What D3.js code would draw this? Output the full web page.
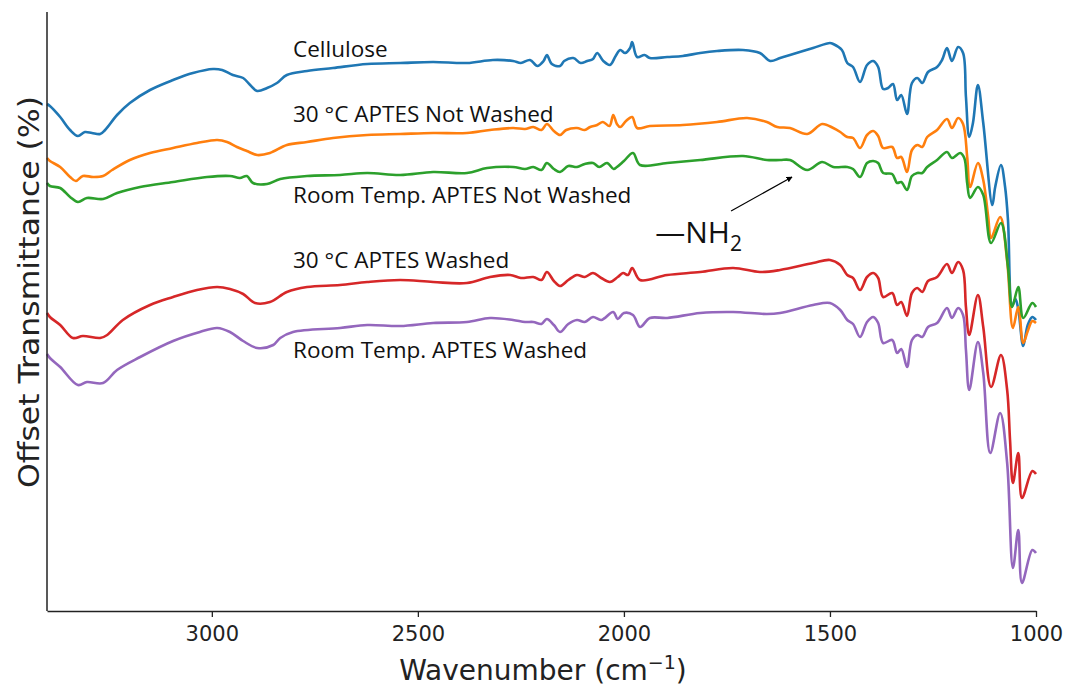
<!DOCTYPE html>
<html>
<head>
<meta charset="utf-8">
<script src="https://cdn.jsdelivr.net/npm/d3@7"></script>
<style>
  body { margin: 0; background: #fff; }
  .tick text { font-family: "DejaVu Sans", sans-serif; }
</style>
</head>
<body>
<div id="chart"></div>
<script>
// spectra: [wavenumber, offset transmittance]
const cellulose = [
  [3400, 507], [3393, 505], [3368, 494], [3344, 481], [3325, 475], [3308, 479], [3291, 478],
  [3271, 477], [3259, 481], [3230, 496], [3199, 508], [3150, 521], [3094, 531], [3046, 538],
  [2997, 542], [2975, 541], [2949, 536], [2924, 533], [2907, 526], [2890, 520], [2866, 523],
  [2842, 528], [2818, 536], [2769, 540], [2706, 543], [2623, 547], [2543, 548], [2463, 549],
  [2381, 548], [2318, 551], [2269, 550], [2250, 548], [2228, 551], [2210, 545], [2195, 550],
  [2187, 556], [2175, 547], [2155, 545], [2145, 550], [2123, 553], [2105, 548], [2089, 550],
  [2075, 552], [2065, 558], [2050, 550], [2034, 546], [2020, 555], [2009, 561], [1997, 558],
  [1985, 563], [1980, 569], [1968, 554], [1950, 556], [1937, 553], [1895, 554], [1857, 555],
  [1815, 558], [1774, 560], [1711, 561], [1670, 558], [1645, 550], [1621, 553], [1597, 556],
  [1541, 563], [1500, 568], [1492, 567], [1471, 561], [1458, 548], [1444, 544], [1427, 529],
  [1410, 546], [1395, 550], [1383, 544], [1371, 522], [1359, 523], [1347, 527], [1337, 511],
  [1327, 516], [1313, 497], [1301, 528], [1288, 533], [1276, 528], [1262, 539], [1240, 544],
  [1228, 551], [1216, 563], [1204, 550], [1189, 564], [1177, 558], [1170, 514], [1162, 474],
  [1153, 488], [1141, 526], [1128, 488], [1106, 406], [1099, 424], [1085, 446], [1075, 424],
  [1068, 391], [1058, 305], [1050, 312], [1043, 302], [1031, 265], [1020, 286], [1009, 294],
  [1000, 291]
];

const notWashed30 = [
  [3400, 453], [3393, 450], [3368, 444], [3344, 434], [3330, 430], [3313, 435], [3288, 434],
  [3264, 435], [3242, 441], [3199, 451], [3150, 458], [3094, 463], [3036, 468], [2987, 471],
  [2963, 469], [2939, 464], [2915, 460], [2890, 456], [2859, 458], [2818, 466], [2769, 469],
  [2706, 473], [2623, 476], [2543, 477], [2463, 478], [2381, 478], [2325, 481], [2269, 483],
  [2240, 482], [2220, 484], [2200, 481], [2187, 487], [2170, 480], [2155, 476], [2140, 481],
  [2114, 483], [2095, 481], [2082, 484], [2065, 486], [2051, 489], [2035, 485], [2026, 496],
  [2017, 487], [2009, 484], [1995, 490], [1980, 494], [1968, 483], [1937, 485], [1857, 486],
  [1774, 489], [1701, 493], [1653, 489], [1628, 484], [1597, 483], [1555, 477], [1519, 487],
  [1492, 483], [1475, 479], [1458, 474], [1444, 473], [1427, 463], [1410, 476], [1395, 480],
  [1383, 475], [1371, 463], [1349, 464], [1337, 453], [1327, 454], [1313, 439], [1301, 461],
  [1288, 466], [1276, 464], [1264, 474], [1240, 481], [1216, 492], [1204, 483], [1189, 493],
  [1177, 487], [1167, 454], [1160, 424], [1141, 448], [1128, 431], [1116, 394], [1109, 373],
  [1087, 394], [1070, 350], [1056, 283], [1043, 304], [1031, 268], [1020, 280], [1009, 290],
  [1000, 288]
];

const notWashedRT = [
  [3400, 428], [3393, 425], [3368, 423], [3344, 414], [3325, 409], [3303, 413], [3264, 412],
  [3230, 418], [3174, 424], [3094, 429], [3012, 434], [2956, 435], [2932, 433], [2915, 435],
  [2900, 428], [2866, 427], [2834, 432], [2769, 435], [2689, 436], [2623, 438], [2543, 436],
  [2463, 439], [2381, 438], [2332, 443], [2269, 444], [2240, 442], [2220, 444], [2200, 441],
  [2187, 448], [2170, 442], [2155, 439], [2135, 445], [2114, 444], [2095, 447], [2075, 448],
  [2060, 444], [2041, 448], [2025, 442], [2017, 444], [2000, 450], [1978, 458], [1961, 446],
  [1895, 448], [1815, 451], [1711, 455], [1653, 451], [1621, 451], [1597, 451], [1555, 441],
  [1519, 449], [1492, 444], [1458, 444], [1444, 442], [1427, 434], [1410, 448], [1395, 450],
  [1383, 448], [1371, 438], [1349, 437], [1337, 428], [1327, 429], [1313, 421], [1301, 435],
  [1288, 438], [1276, 438], [1264, 444], [1240, 451], [1216, 459], [1204, 453], [1184, 458],
  [1174, 453], [1167, 428], [1160, 413], [1141, 424], [1128, 416], [1109, 368], [1085, 388],
  [1068, 344], [1058, 304], [1043, 324], [1031, 293], [1009, 308], [1000, 304]
];

const washed30 = [
  [3400, 298], [3393, 294], [3368, 286], [3337, 273], [3313, 275], [3271, 273], [3254, 276],
  [3216, 291], [3150, 306], [3094, 314], [3036, 321], [2987, 324], [2956, 322], [2924, 317],
  [2895, 308], [2859, 309], [2818, 319], [2769, 324], [2689, 326], [2623, 329], [2543, 331],
  [2463, 329], [2381, 328], [2325, 334], [2276, 336], [2250, 333], [2220, 334], [2200, 331],
  [2187, 339], [2170, 330], [2155, 325], [2135, 331], [2114, 336], [2095, 334], [2075, 338],
  [2055, 333], [2034, 329], [2015, 334], [2002, 338], [1990, 336], [1980, 343], [1961, 331],
  [1895, 336], [1815, 339], [1735, 343], [1670, 339], [1621, 341], [1541, 348], [1500, 351],
  [1475, 346], [1458, 336], [1444, 333], [1427, 321], [1410, 334], [1395, 338], [1383, 333],
  [1371, 314], [1349, 318], [1337, 306], [1327, 309], [1313, 295], [1301, 318], [1288, 323],
  [1276, 319], [1262, 330], [1240, 334], [1216, 347], [1204, 338], [1189, 349], [1177, 341],
  [1170, 304], [1162, 276], [1141, 316], [1128, 284], [1109, 224], [1085, 256], [1070, 221],
  [1063, 171], [1056, 128], [1043, 158], [1034, 113], [1009, 140], [1000, 137]
];

const washedRT = [
  [3400, 257], [3393, 253], [3368, 244], [3325, 226], [3303, 229], [3264, 228], [3230, 241],
  [3174, 254], [3094, 270], [3029, 279], [2987, 283], [2956, 279], [2924, 270], [2890, 263],
  [2851, 266], [2834, 273], [2803, 279], [2689, 283], [2623, 286], [2543, 285], [2463, 288],
  [2381, 289], [2325, 293], [2269, 291], [2240, 289], [2220, 289], [2200, 287], [2187, 292],
  [2170, 286], [2155, 279], [2135, 287], [2114, 291], [2095, 289], [2075, 294], [2055, 291],
  [2026, 299], [2015, 292], [2000, 298], [1978, 296], [1961, 284], [1937, 293], [1895, 293],
  [1815, 298], [1735, 299], [1653, 297], [1621, 298], [1541, 306], [1500, 308], [1475, 301],
  [1458, 291], [1444, 287], [1427, 274], [1410, 289], [1395, 294], [1383, 288], [1371, 268],
  [1349, 271], [1337, 258], [1327, 262], [1313, 244], [1301, 271], [1288, 276], [1276, 274],
  [1262, 284], [1240, 288], [1216, 303], [1204, 293], [1189, 303], [1177, 296], [1170, 261],
  [1162, 221], [1141, 269], [1128, 238], [1111, 158], [1087, 198], [1070, 148], [1056, 43],
  [1043, 81], [1034, 28], [1009, 61], [1000, 58]
];

const seriesNames = [
  'Cellulose', '30 °C APTES Not Washed', 'Room Temp. APTES Not Washed',
  '30 °C APTES Washed', 'Room Temp. APTES Washed'
];
const seriesData = [cellulose, notWashed30, notWashedRT, washed30, washedRT];
const seriesColors = ['#1f77b4', '#ff7f0e', '#2ca02c', '#d62728', '#9467bd'];
// where each name is written: [wavenumber, offset transmittance] of its baseline start
const labelSpots = [[2803, 554], [2803, 489], [2803, 408], [2803, 343], [2803, 253]];
const xTicks = [3000, 2500, 2000, 1500, 1000];

const width = 1071, height = 689;
const margin = { top: 12, right: 35, bottom: 78, left: 47 };

const svg = d3.select('#chart').append('svg')
  .attr('width', width)
  .attr('height', height)
  .style('background', '#fff');

const x = d3.scaleLinear()
  .domain([3400, 1000])
  .range([margin.left, width - margin.right]);

const y = d3.scaleLinear()
  .domain([0, 599])
  .range([height - margin.bottom, margin.top]);

const line = d3.line()
  .x(d => x(d[0]))
  .y(d => y(d[1]))
  .curve(d3.curveCatmullRom.alpha(0.5));

svg.selectAll('.spectrum')
  .data(seriesData)
  .enter()
  .append('path')
  .attr('class', 'spectrum')
  .attr('d', line)
  .attr('fill', 'none')
  .attr('stroke', (d, i) => seriesColors[i])
  .attr('stroke-width', 2.6)
  .attr('stroke-linejoin', 'round');

// axes: left spine without ticks, bottom axis with ticks
svg.append('line')
  .attr('x1', margin.left).attr('x2', margin.left)
  .attr('y1', margin.top).attr('y2', height - margin.bottom)
  .attr('stroke', '#222')
  .attr('stroke-width', 1.5);

const xAxis = svg.append('g')
  .attr('transform', 'translate(0,' + (height - margin.bottom) + ')')
  .call(d3.axisBottom(x).tickValues(xTicks).tickFormat(d3.format('d'))
    .tickSize(6).tickSizeOuter(0).tickPadding(9));

xAxis.select('.domain').attr('stroke', '#222').attr('stroke-width', 1.5);
xAxis.selectAll('.tick line').attr('stroke', '#222').attr('stroke-width', 1.3);
xAxis.selectAll('.tick text')
  .attr('fill', '#222')
  .style('font-size', '21px');

const xLabel = svg.append('text')
  .attr('x', 543)
  .attr('y', 680)
  .attr('text-anchor', 'middle')
  .style('font-family', '"DejaVu Sans", sans-serif')
  .style('font-size', '28px')
  .attr('fill', '#222')
  .text('Wavenumber (cm');
xLabel.append('tspan').attr('dy', -11).style('font-size', '19px').text('\u22121');
xLabel.append('tspan').attr('dy', 11).text(')');

svg.append('text')
  .attr('transform', 'translate(39,292) rotate(-90)')
  .attr('text-anchor', 'middle')
  .attr('textLength', 392)
  .attr('lengthAdjust', 'spacingAndGlyphs')
  .style('font-family', '"DejaVu Sans", sans-serif')
  .style('font-size', '29px')
  .attr('fill', '#222')
  .text('Offset Transmittance (%)');

// series names written beside the curves
svg.selectAll('.series-label')
  .data(seriesNames)
  .enter()
  .append('text')
  .attr('class', 'series-label')
  .attr('x', (d, i) => x(labelSpots[i][0]))
  .attr('y', (d, i) => y(labelSpots[i][1]))
  .style('font-family', '"Open Sans", sans-serif')
  .style('font-size', '22.5px')
  .attr('fill', '#111')
  .text(d => d);

// NH2 annotation with arrow
svg.append('defs').append('marker')
  .attr('id', 'arrowhead')
  .attr('viewBox', '0 0 10 10')
  .attr('refX', 9).attr('refY', 5)
  .attr('markerWidth', 5).attr('markerHeight', 5)
  .attr('orient', 'auto')
  .append('path')
  .attr('d', 'M0,0 L10,5 L0,10 z')
  .attr('fill', '#000');

svg.append('line')
  .attr('x1', x(1740)).attr('y1', y(400))
  .attr('x2', x(1592)).attr('y2', y(434))
  .attr('stroke', '#000')
  .attr('stroke-width', 1.2)
  .attr('marker-end', 'url(#arrowhead)');

const nh2 = svg.append('text')
  .attr('x', x(1924))
  .attr('y', y(368))
  .style('font-family', '"Open Sans", sans-serif')
  .style('font-size', '30px')
  .attr('fill', '#111')
  .text('\u2014NH');
nh2.append('tspan').attr('dy', 8).style('font-size', '21px').text('2');
</script>
</body>
</html>
